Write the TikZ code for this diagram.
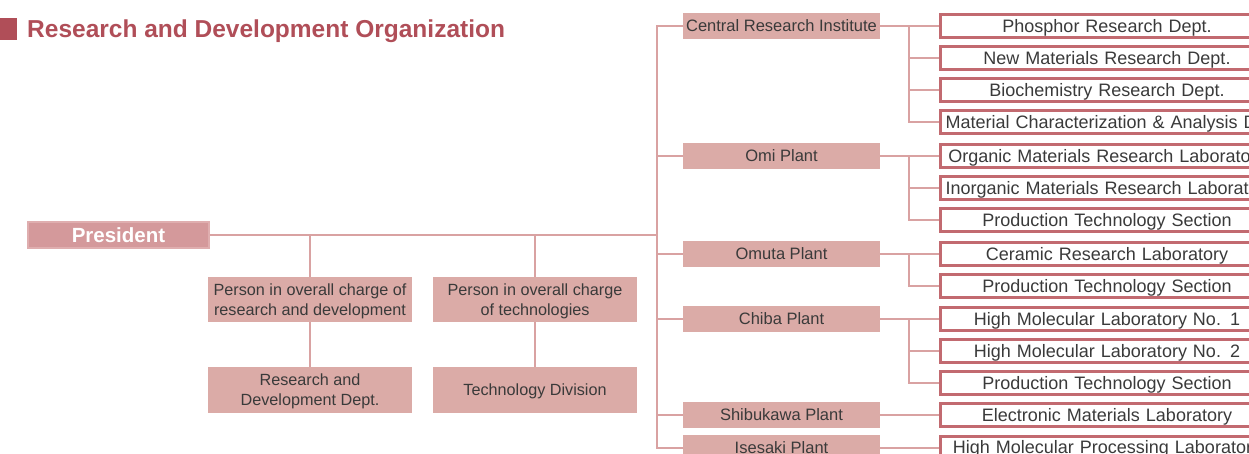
\documentclass[tikz,border=0pt]{standalone}
\usepackage{fontspec}
\setmainfont{Liberation Sans}
\definecolor{titlecol}{HTML}{B04E58}
\definecolor{linecol}{HTML}{D9A2A2}
\definecolor{boxfill}{HTML}{DBABA7}
\definecolor{presfill}{HTML}{D4999B}
\definecolor{presdraw}{HTML}{DFAEAF}
\definecolor{rborder}{HTML}{C26A70}
\definecolor{txt}{HTML}{3A3A3A}
\tikzset{
  conn/.style={draw=linecol, line width=2pt},
  midbox/.style={fill=boxfill, minimum width=197pt, minimum height=26pt, inner sep=0pt,
     text=txt, text height=11.8pt, text depth=0pt, font=\fontsize{16.5}{18}\selectfont},
  perbox/.style={fill=boxfill, minimum width=204pt, minimum height=45pt, inner sep=0pt,
     text=txt, align=center, text height=31.6pt, text depth=0pt, font=\fontsize{16.2}{20}\selectfont},
  rbox/.style={draw=rborder, line width=3pt, fill=white, minimum width=333pt, minimum height=23pt,
     inner xsep=5pt, inner ysep=0pt, text width=323pt, align=center, text=txt,
     text height=12.9pt, text depth=0pt, font=\fontsize{18}{20}\selectfont},
  presbox/.style={fill=presfill, draw=presdraw, line width=1.5pt, minimum width=181pt, minimum height=26pt,
     inner sep=0pt, text=white, text height=14.7pt, text depth=0pt, font=\bfseries\fontsize{20.5}{22}\selectfont},
}
\begin{document}
\begin{tikzpicture}[x=1pt, y=-1pt]
\clip (0,0) rectangle (1249,454);
% title
\fill[titlecol] (0,18) rectangle (17,40);
\node[anchor=base west, inner sep=0pt, text=titlecol, font=\bfseries\fontsize{24.5}{26}\selectfont] (title) at (27,38) {Research and Development Organization};
% president
\node[presbox] (pres) at (118.5,235) {President};
% person boxes
\node[perbox] (p1) at (310,299.5) {Person in overall charge of\\research and development};
\node[perbox] (p2) at (535,299.5) {Person in overall charge\\of technologies};
\node[perbox, minimum height=46pt] (d1) at (310,390) {Research and\\Development Dept.};
\node[perbox, minimum height=46pt, text height=11.6pt] (d2) at (535,390) {Technology Division};
% middle boxes
\node[midbox] (m1) at (781.5,26) {Central Research Institute};
\node[midbox] (m2) at (781.5,156) {Omi Plant};
\node[midbox] (m3) at (781.5,254) {Omuta Plant};
\node[midbox] (m4) at (781.5,319) {Chiba Plant};
\node[midbox] (m5) at (781.5,415) {Shibukawa Plant};
\node[midbox] (m6) at (781.5,447.5) {Isesaki Plant};
% right boxes
\node[rbox] (r1) at (1107,26) {\mbox{Phosphor Research Dept.}};
\node[rbox] (r2) at (1107,58) {\mbox{New Materials Research Dept.}};
\node[rbox] (r3) at (1107,90) {\mbox{Biochemistry Research Dept.}};
\node[rbox] (r4) at (1107,122) {\mbox{Material Characterization \& Analysis Dept.}};
\node[rbox] (r5) at (1107,156) {\mbox{Organic Materials Research Laboratory}};
\node[rbox] (r6) at (1107,188) {\mbox{Inorganic Materials Research Laboratory}};
\node[rbox] (r7) at (1107,220) {\mbox{Production Technology Section}};
\node[rbox] (r8) at (1107,254) {\mbox{Ceramic Research Laboratory}};
\node[rbox] (r9) at (1107,286) {\mbox{Production Technology Section}};
\node[rbox] (r10) at (1107,319) {\mbox{High Molecular Laboratory No. 1}};
\node[rbox] (r11) at (1107,351) {\mbox{High Molecular Laboratory No. 2}};
\node[rbox] (r12) at (1107,383) {\mbox{Production Technology Section}};
\node[rbox] (r13) at (1107,415) {\mbox{Electronic Materials Laboratory}};
\node[rbox] (r14) at (1107,447.5) {\mbox{High Molecular Processing Laboratory}};
% coordinates
\coordinate (tr) at (657,235);
\coordinate (bx) at (909,0);
% connectors left part
\draw[conn] (pres.east) -- (tr);
\draw[conn] (p1.north |- pres.east) -- (p1.north);
\draw[conn] (p2.north |- pres.east) -- (p2.north);
\draw[conn] (p1.south) -- (d1.north);
\draw[conn] (p2.south) -- (d2.north);
% trunk
\draw[conn] (m1.west) -| (tr |- m6.west) -- (m6.west);
\draw[conn] (tr |- m2.west) -- (m2.west);
\draw[conn] (tr |- m3.west) -- (m3.west);
\draw[conn] (tr |- m4.west) -- (m4.west);
\draw[conn] (tr |- m5.west) -- (m5.west);
% brackets
\draw[conn] (m1.east) -- (r1.west);
\draw[conn] (bx |- r1.west) |- (r4.west);
\draw[conn] (bx |- r2.west) -- (r2.west);
\draw[conn] (bx |- r3.west) -- (r3.west);
\draw[conn] (m2.east) -- (r5.west);
\draw[conn] (bx |- r5.west) |- (r7.west);
\draw[conn] (bx |- r6.west) -- (r6.west);
\draw[conn] (m3.east) -- (r8.west);
\draw[conn] (bx |- r8.west) |- (r9.west);
\draw[conn] (m4.east) -- (r10.west);
\draw[conn] (bx |- r10.west) |- (r12.west);
\draw[conn] (bx |- r11.west) -- (r11.west);
\draw[conn] (m5.east) -- (r13.west);
\draw[conn] (m6.east) -- (r14.west);
\end{tikzpicture}
\end{document}
